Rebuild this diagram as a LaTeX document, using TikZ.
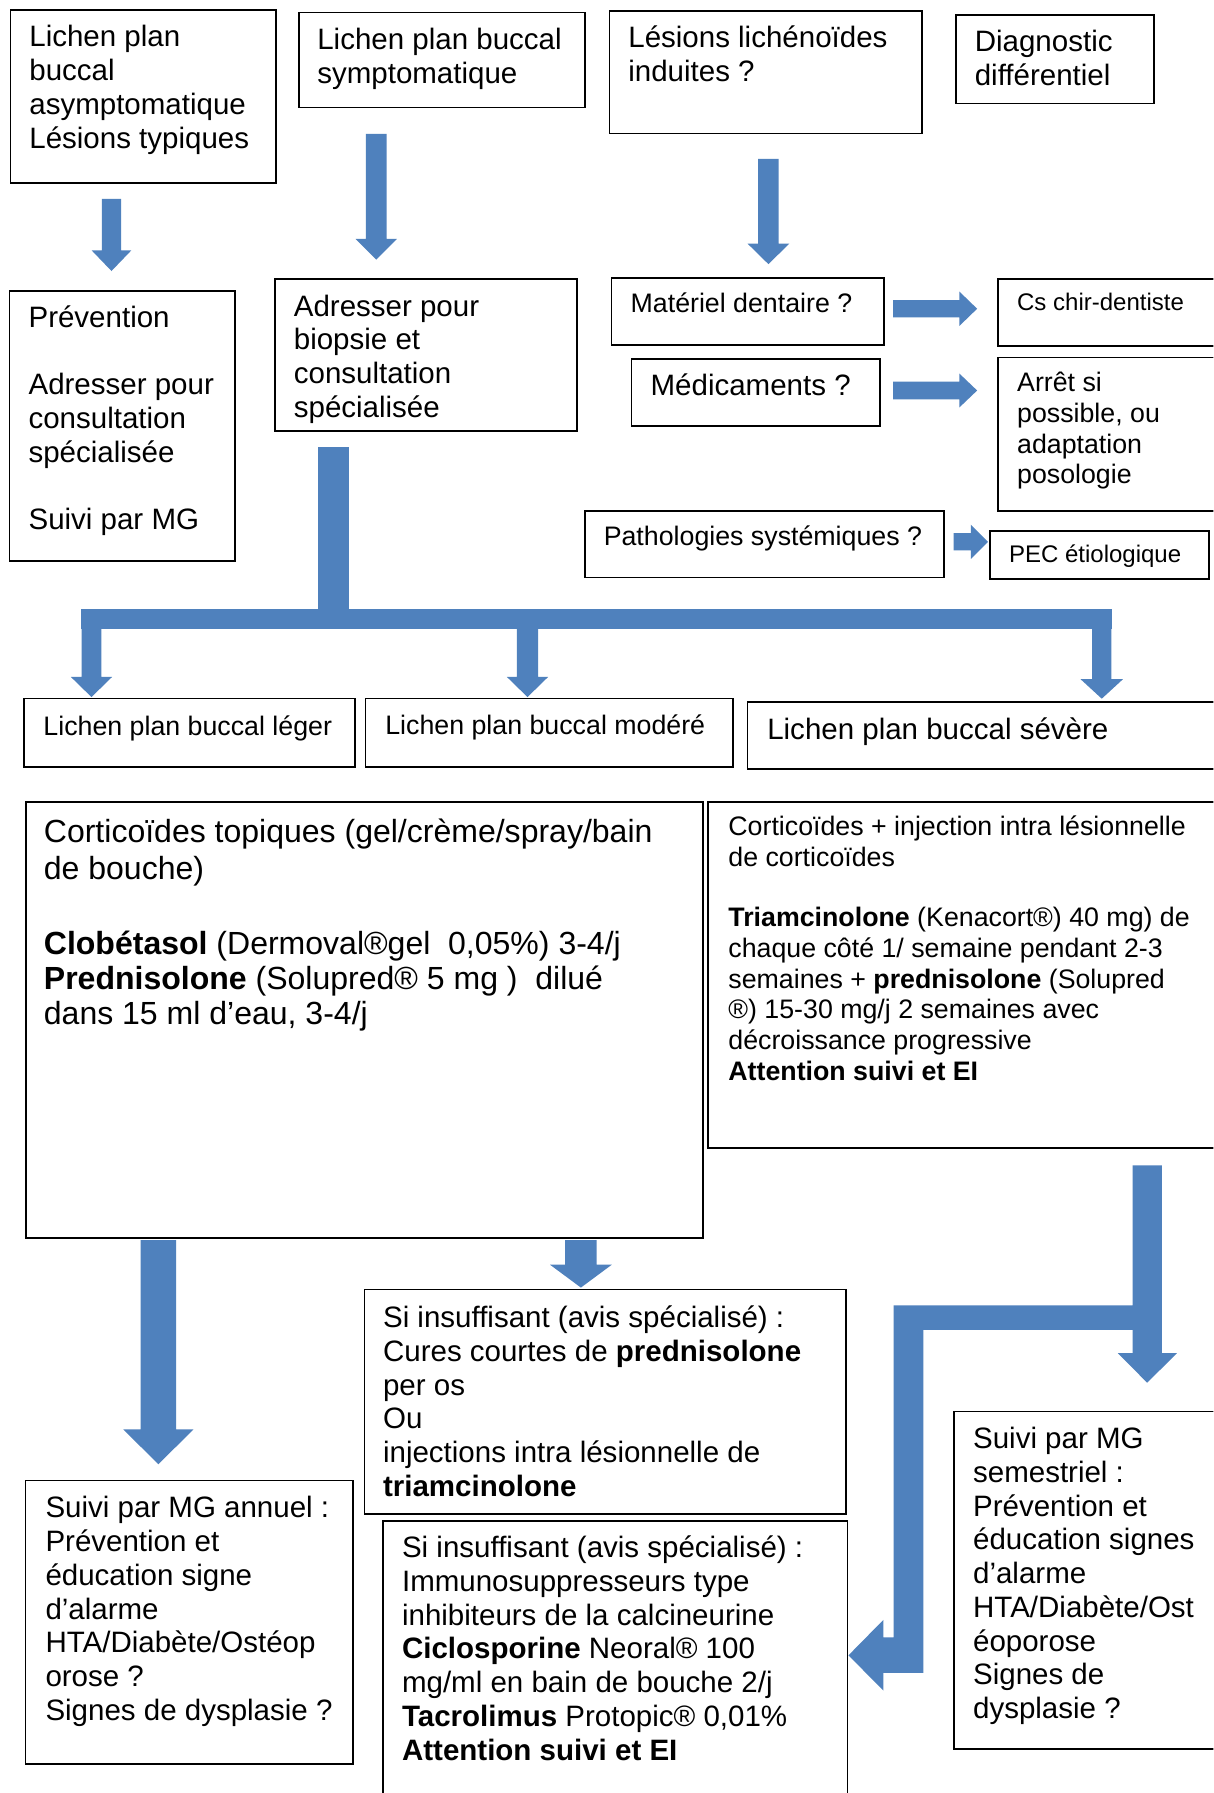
\documentclass[tikz,border=0pt]{standalone}
\usepackage{fontspec}
\setmainfont{Liberation Sans}
\usetikzlibrary{calc}
\definecolor{ablue}{RGB}{79,129,189}
\newcommand\bx[5]{\node[box,minimum width={#4-#2},minimum height={#5-#3}] (#1) at (#2,#3) {};}
\newcommand\dnarrow[5]{\fill[ablue] let \p1=(#1), \p2=(#2) in (\x1-#3pt,\y1) -- (\x1+#3pt,\y1) -- (\x1+#3pt,\y2+#5pt) -- (\x1+#4pt,\y2+#5pt) -- (\x1,\y2) -- (\x1-#4pt,\y2+#5pt) -- (\x1-#3pt,\y2+#5pt) -- cycle;}
\newcommand\rtarrow[5]{\fill[ablue] let \p1=(#1), \p2=(#2) in (\x1,\y1+#3pt) -- (\x2-#5pt,\y1+#3pt) -- (\x2-#5pt,\y1+#4pt) -- (\x2,\y1) -- (\x2-#5pt,\y1-#4pt) -- (\x2-#5pt,\y1-#3pt) -- (\x1,\y1-#3pt) -- cycle;}
\begin{document}
\begin{tikzpicture}[x=1pt,y=-1pt,
  box/.style={draw=black,line width=1.5pt,inner sep=0pt,anchor=north west},
  txt/.style={anchor=north west,inner sep=0pt,align=left},
  fL/.style={font=\fontsize{25.8}{29.5}\selectfont},
  fM/.style={font=\fontsize{23.4}{26.8}\selectfont},
  fMc/.style={font=\fontsize{23.4}{27}\selectfont},
  fS/.style={font=\fontsize{21}{24.2}\selectfont},
  fXL/.style={font=\fontsize{28}{30.3}\selectfont}]
\useasboundingbox (0,0) rectangle (1061,1568);
\clip (0,0) rectangle (1061,1568);
\fill[white] (0,0) rectangle (1061,1568);

% ---- boxes ----
\bx{A}{8.5}{8.2}{240.7}{159.2}
\bx{B}{261}{10.2}{510.8}{93.3}
\bx{C}{532.3}{8.7}{805.8}{116}
\bx{D}{835.3}{12.2}{1008.6}{89.8}
\bx{E}{7.6}{254}{205}{490}
\bx{F}{240}{243}{504}{376}
\bx{Mat}{534}{242.5}{772.5}{301}
\bx{Med}{551.5}{313}{768.6}{372}
\bx{Cs}{871.7}{243}{1080}{302}
\bx{Arr}{871.7}{312}{1080}{446}
\bx{Pat}{511}{446}{825}{504.4}
\bx{PEC}{864.7}{463.6}{1056.4}{505.8}
\bx{Leg}{20}{610}{310}{670}
\bx{Mod}{319}{610}{640}{670}
\bx{Sev}{653}{613}{1080}{671.5}
\bx{Cor}{21.8}{700.3}{614}{1081.7}
\bx{CorP}{618.7}{700.3}{1080}{1003}
\bx{Cur}{318}{1127}{739}{1323}
\bx{Imm}{334.4}{1329.5}{740.3}{1590}
\bx{Ann}{21.6}{1294}{308}{1542}
\bx{Sem}{833.3}{1233.6}{1080}{1528.7}

% ---- texts ----
\node[txt,fL] (A-t) at (25.5,20.2) {\strut Lichen plan\\buccal\\asymptomatique\\Lésions typiques};
\node[txt,fL] (B-t) at (277.3,22.4) {\strut Lichen plan buccal\\symptomatique};
\node[txt,fL] (C-t) at (549.3,20.9) {\strut Lésions lichénoïdes\\induites ?};
\node[txt,fL] (D-t) at (852.3,24.6) {\strut Diagnostic\\différentiel};
\node[txt,fL] (E-t) at (24.8,265.5) {\strut Prévention\\[29.5pt]Adresser pour\\consultation\\spécialisée\\[29.5pt]Suivi par MG};
\node[txt,fL] (F-t) at (256.8,255.5) {\strut Adresser pour\\biopsie et\\consultation\\spécialisée};
\node[txt,fM] (Mat-t) at (551.3,254.6) {\strut Matériel dentaire ?};
\node[txt,fL] (Med-t) at (568.8,325.2) {\strut Médicaments ?};
\node[txt,fS] (Cs-t) at (889.3,254.8) {\strut Cs chir-dentiste};
\node[txt,fM] (Arr-t) at (889.3,323.6) {\strut Arrêt si\\possible, ou\\adaptation\\posologie};
\node[txt,fM] (Pat-t) at (527.8,458) {\strut Pathologies systémiques ?};
\node[txt,fS] (PEC-t) at (882.2,475.2) {\strut PEC étiologique};
\node[txt,fM] (Leg-t) at (37.8,624.2) {\strut Lichen plan buccal léger};
\node[txt,fM] (Mod-t) at (336.8,623.6) {\strut Lichen plan buccal modéré};
\node[txt,fL] (Sev-t) at (670.8,626) {\strut Lichen plan buccal sévère};
\node[txt,fXL] (Cor-t) at (38.2,715.2) {\strut Corticoïdes topiques (gel/crème/spray/bain\\[1.8pt]de bouche)\\[35.9pt]\textbf{Clobétasol} (Dermoval®gel\ \ 0,05\%) 3-4/j\\\textbf{Prednisolone} (Solupred® 5 mg )\ \ dilué\\dans 15 ml d’eau, 3-4/j};
\node[txt,fMc] (CorP-t) at (636.8,711.5) {\strut Corticoïdes + injection intra lésionnelle\\de corticoïdes\\[25.5pt]\textbf{Triamcinolone} (Kenacort®) 40 mg) de\\chaque côté 1/ semaine pendant 2-3\\semaines + \textbf{prednisolone} (Solupred\\®) 15-30 mg/j 2 semaines avec\\décroissance progressive\\\textbf{Attention suivi et EI}};
\node[txt,fL] (Cur-t) at (334.8,1140.3) {\strut Si insuffisant (avis spécialisé) :\\Cures courtes de \textbf{prednisolone}\\per os\\Ou\\injections intra lésionnelle de\\\textbf{triamcinolone}};
\node[txt,fL] (Imm-t) at (351.4,1341.3) {\strut Si insuffisant (avis spécialisé) :\\Immunosuppresseurs type\\inhibiteurs de la calcineurine\\\textbf{Ciclosporine} Neoral® 100\\mg/ml en bain de bouche 2/j\\\textbf{Tacrolimus} Protopic® 0,01\%\\\textbf{Attention suivi et EI}};
\node[txt,fL] (Ann-t) at (39.6,1306.5) {\strut Suivi par MG annuel :\\Prévention et\\éducation signe\\d’alarme\\HTA/Diabète/Ostéop\\orose ?\\Signes de dysplasie ?};
\node[txt,fL] (Sem-t) at (850.8,1246.1) {\strut Suivi par MG\\semestriel :\\Prévention et\\éducation signes\\d’alarme\\HTA/Diabète/Ost\\éoporose\\Signes de\\dysplasie ?};

% ---- arrow end points ----
\coordinate (a1s) at (97.5,174);   \coordinate (a1e) at (97.5,237);
\coordinate (a2s) at (329,117);    \coordinate (a2e) at (329,227);
\coordinate (a3s) at (672,139);    \coordinate (a3e) at (672,231);
\coordinate (a4s) at (781,270);    \coordinate (a4e) at (854.5,270);
\coordinate (a5s) at (781,341.5);  \coordinate (a5e) at (854.5,341.5);
\coordinate (a6s) at (834,473.8);  \coordinate (a6e) at (864,473.8);
\coordinate (b1s) at (80,533);     \coordinate (b1e) at (80,609.6);
\coordinate (b2s) at (461.3,533);  \coordinate (b2e) at (461.3,609.6);
\coordinate (b3s) at (963.5,533);  \coordinate (b3e) at (963.5,611);
\coordinate (c1s) at (138.5,1084.6); \coordinate (c1e) at (138.5,1280.5);
\coordinate (c2s) at (508,1084.6); \coordinate (c2e) at (508,1126);

% ---- block arrows ----
\dnarrow{a1s}{a1e}{8.5}{17.3}{18}
\dnarrow{a2s}{a2e}{9}{18}{18}
\dnarrow{a3s}{a3e}{9}{18.3}{18}
\rtarrow{a4s}{a4e}{7.5}{15}{15.5}
\rtarrow{a5s}{a5e}{7.7}{14.8}{15.5}
\rtarrow{a6s}{a6e}{7.5}{15}{15}
% tree from F
\fill[ablue] (278,391) rectangle (305.5,550);
\fill[ablue] (71,533) rectangle (972.5,550);
\dnarrow{b1s}{b1e}{8.7}{18}{17.6}
\dnarrow{b2s}{b2e}{9.2}{18}{17.6}
\dnarrow{b3s}{b3e}{8.5}{18.5}{17}
% from corticoides box
\dnarrow{c1s}{c1e}{15.5}{30.7}{30.5}
\dnarrow{c2s}{c2e}{13.75}{27}{20}
% bent arrow from CorP to Sem and Imm
\fill[ablue] (990.4,1019.1) -- (1016,1019.1) -- (1016,1183.4) -- (1029.2,1183.4)
  -- (1003.2,1209.2) -- (977.6,1183.4) -- (990.4,1183.4) -- (990.4,1163)
  -- (807.6,1163) -- (807.6,1463) -- (772.6,1463) -- (772.6,1478.5)
  -- (742,1447.6) -- (772.6,1416.5) -- (772.6,1431.8) -- (781.4,1431.8)
  -- (781.4,1141.5) -- (990.4,1141.5) -- cycle;
\end{tikzpicture}
\end{document}
